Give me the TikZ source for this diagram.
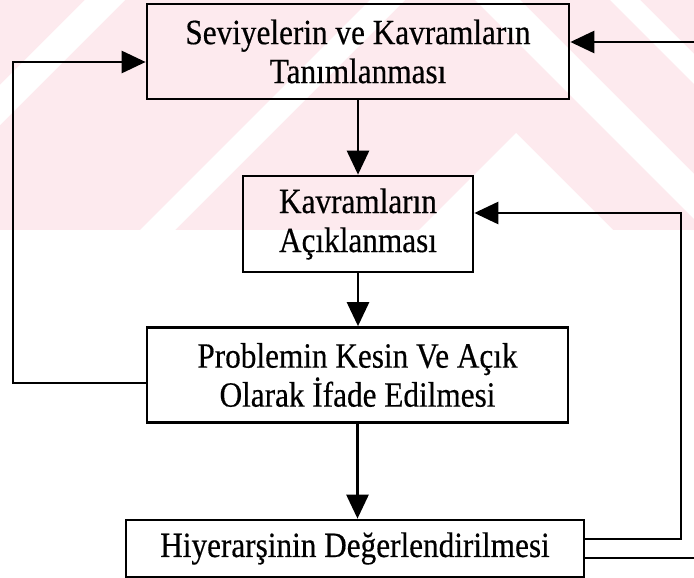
\documentclass[tikz,border=0pt]{standalone}
\usepackage{fontspec}
\setmainfont{Liberation Serif}[FakeStretch=0.88, FakeBold=0.4]
\usetikzlibrary{arrows.meta}
\definecolor{wmpink}{RGB}{253,234,238}
\tikzset{
  stepbox/.style={draw=black, line width=2.7pt, inner sep=0pt, align=center,
    font=\fontsize{35.5}{39}\selectfont},
  link/.style={draw=black, line width=2.7pt},
  arr/.style={link, -{Triangle[length=24pt,width=22pt]}}
}
\begin{document}
\begin{tikzpicture}[x=1pt, y=-1pt]
\useasboundingbox (0,0) rectangle (694,578);
% faint striped background band
\begin{scope}
  \clip (0,0) rectangle (694,230);
  \fill[wmpink] (0,0) rectangle (694,230);
  \fill[white] (85,0) -- (125,0) -- (-105,230) -- (-145,230) -- cycle;
  \fill[white] (370,0) -- (405,0) -- (175,230) -- (140,230) -- cycle;
  \fill[white] (475,0) -- (520,0) -- (750,230) -- (705,230) -- cycle;
  \fill[white] (610,0) -- (640,0) -- (870,230) -- (840,230) -- cycle;
  \fill[white] (516,133) -- (613,230) -- (419,230) -- cycle;
\end{scope}

% process steps
\node[stepbox, minimum width=422pt, minimum height=95pt] (b1) at (358,51.5)
  {Seviyelerin ve Kavramların\\Tanımlanması};
\node[stepbox, minimum width=230pt, minimum height=96pt] (b2) at (358,224)
  {Kavramların\\Açıklanması};
\node[stepbox, minimum width=421pt, minimum height=95pt] (b3) at (357.5,375)
  {Problemin Kesin Ve Açık\\Olarak İfade Edilmesi};
\node[stepbox, minimum width=458pt, minimum height=57pt] (b4) at (355,548.5)
  {Hiyerarşinin Değerlendirilmesi};

% loose ends at the right margin
\coordinate (topin) at (694,42);
\coordinate (botout) at (694,558);

% main flow
\draw[arr] (b1.south) -- (b1.south |- b2.north);
\draw[arr] (b2.south) -- (b2.south |- b3.north);
\draw[arr] (b3.south) -- (b3.south |- b4.north);

% feedback loops
\draw[arr] ([yshift=-8pt]b3.west) -| (13,62) -- (b1.west |- 13,62);
\draw[arr] ([yshift=9.5pt]b4.east) -| (681,213) -- (b2.east |- 681,213);
\draw[link] ([yshift=-9.5pt]b4.east) -- (botout);
\draw[arr] (topin) -- (b1.east |- topin);
\end{tikzpicture}
\end{document}
